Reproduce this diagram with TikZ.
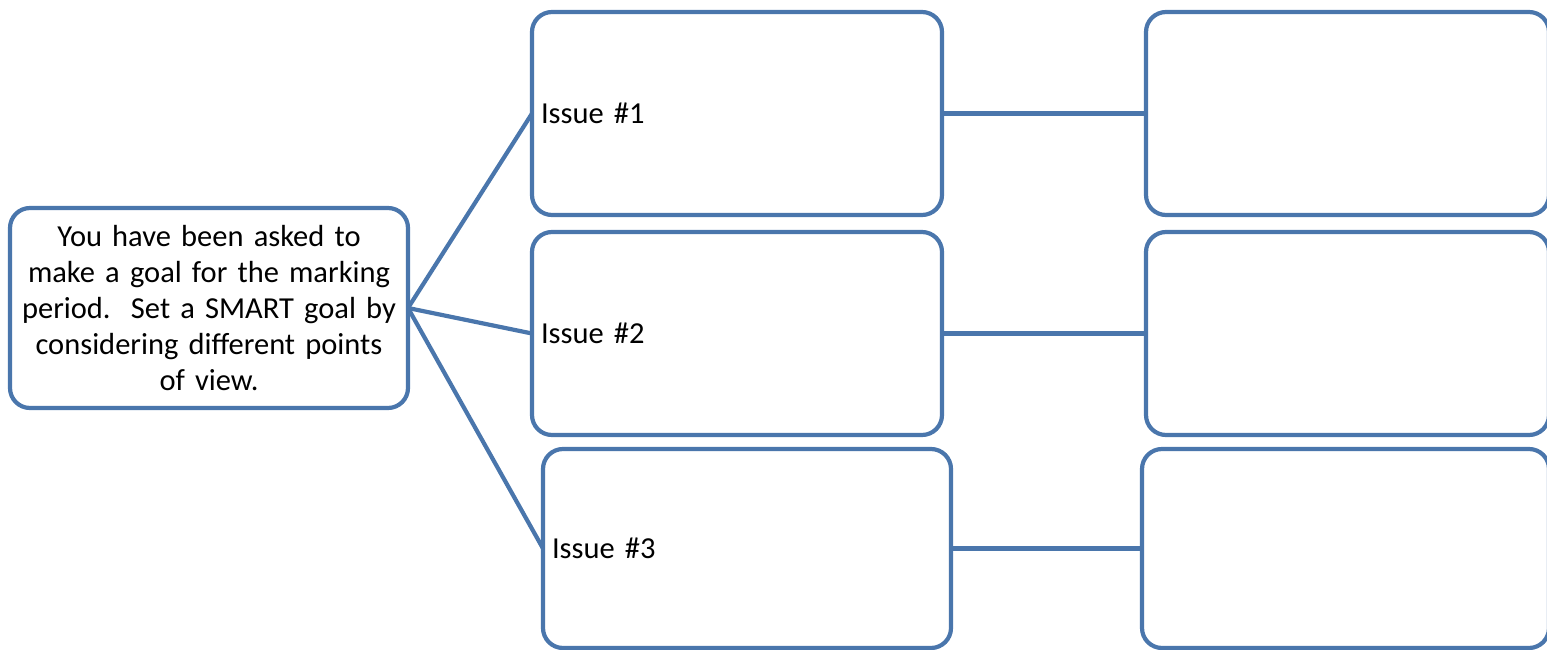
\documentclass[tikz,border=0pt]{standalone}
\usepackage{fontspec}
\setmainfont{Carlito}
\definecolor{boxblue}{HTML}{4A76AC}
\begin{document}
\begin{tikzpicture}[x=1pt,y=-1pt,
  box/.style={draw=boxblue, line width=4.2pt, rounded corners=20pt, fill=white,
    outer sep=0pt, font=\fontsize{30.5}{36}\selectfont},
  issuebox/.style={box, align=left, inner xsep=9pt},
  conn/.style={draw=boxblue, line width=4.2pt}]
\useasboundingbox (0,0) rectangle (1547,650);
\node[box, minimum width=398pt, minimum height=200pt, text width=384pt, align=center]
  (L) at (209,308) {You have been asked to\\make a goal for the marking\\period.\ \ Set a SMART goal by\\considering different points\\of view.};
\node[issuebox, minimum width=410pt, minimum height=203pt, text width=392pt] (I1) at (737,113.5) {Issue \#1};
\node[issuebox, minimum width=410pt, minimum height=203pt, text width=392pt] (I2) at (737,333.5) {Issue \#2};
\node[issuebox, minimum width=408pt, minimum height=199pt, text width=390pt] (I3) at (747,548.5) {Issue \#3};
\node[box, minimum width=403pt, minimum height=203pt] (R1) at (1347.5,113.5) {};
\node[box, minimum width=403pt, minimum height=203pt] (R2) at (1347.5,333.5) {};
\node[box, minimum width=407pt, minimum height=199pt] (R3) at (1345.5,548.5) {};
\draw[conn] (L.east) -- (I1.west);
\draw[conn] (L.east) -- (I2.west);
\draw[conn] (L.east) -- (I3.west);
\draw[conn] (I1.east) -- (R1.west);
\draw[conn] (I2.east) -- (R2.west);
\draw[conn] (I3.east) -- (R3.west);
\end{tikzpicture}
\end{document}
